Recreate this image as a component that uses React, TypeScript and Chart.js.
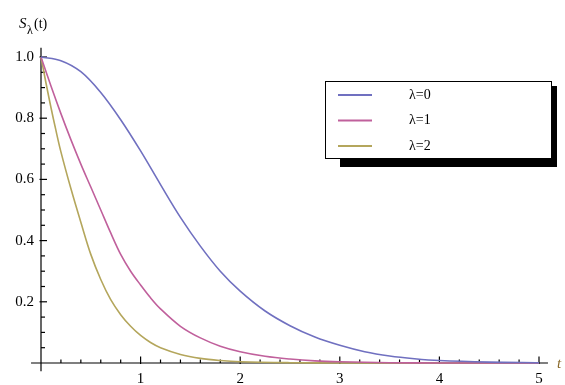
import React, { useEffect, useRef } from "react";
import { Chart, registerables } from "chart.js";

Chart.register(...registerables);

// t values and survival values
const tBlue = [0, 0.2, 0.4, 0.6, 0.8, 1.0, 1.2, 1.4, 1.6, 1.8, 2.0, 2.25, 2.5, 2.75, 3.0, 3.25, 3.5, 3.75, 4.0, 4.5, 5.0];
const sLambda0 = [1.0, 0.988, 0.952, 0.884, 0.795, 0.693, 0.583, 0.476, 0.382, 0.3, 0.235, 0.17, 0.122, 0.085, 0.058, 0.037, 0.023, 0.014, 0.008, 0.003, 0.001];

const tRed = [0, 0.1, 0.2, 0.3, 0.4, 0.5, 0.6, 0.7, 0.8, 0.9, 1.0, 1.1, 1.2, 1.4, 1.6, 1.8, 2.0, 2.25, 2.5, 2.75, 3.0, 3.5, 4.0, 5.0];
const sLambda1 = [1.0, 0.905, 0.815, 0.73, 0.65, 0.575, 0.5, 0.425, 0.355, 0.3, 0.255, 0.213, 0.177, 0.12, 0.082, 0.055, 0.037, 0.022, 0.013, 0.007, 0.004, 0.001, 0.0, 0.0];

const tYellow = [0, 0.05, 0.1, 0.15, 0.2, 0.3, 0.4, 0.5, 0.6, 0.7, 0.8, 0.9, 1.0, 1.1, 1.2, 1.4, 1.6, 1.8, 2.0, 2.5, 3.0, 5.0];
const sLambda2 = [1.0, 0.915, 0.835, 0.76, 0.69, 0.57, 0.46, 0.355, 0.273, 0.207, 0.158, 0.12, 0.09, 0.067, 0.05, 0.028, 0.015, 0.008, 0.004, 0.001, 0.0, 0.0];

const seriesLabels = ["λ=0", "λ=1", "λ=2"];
const seriesColors = ["#7070c0", "#c0609c", "#b4a65c"];

const xMajorTicks = [1, 2, 3, 4, 5];
const xTickLabels = ["1", "2", "3", "4", "5"];
const yMajorTicks = [0.2, 0.4, 0.6, 0.8, 1.0];
const yTickLabels = ["0.2", "0.4", "0.6", "0.8", "1.0"];

const FONT = "'Liberation Serif', 'DejaVu Serif', serif";

const axesPlugin = {
  id: "mmaAxes",
  beforeDatasetsDraw(chart: any) {
    const ctx = chart.ctx;
    const xs = chart.scales.x;
    const ys = chart.scales.y;
    const x0 = xs.getPixelForValue(0);
    const y0 = ys.getPixelForValue(0);
    ctx.save();
    ctx.strokeStyle = "#000";
    ctx.lineWidth = 1.2;
    ctx.beginPath();
    ctx.moveTo(xs.getPixelForValue(-0.1), y0);
    ctx.lineTo(xs.getPixelForValue(5.09), y0);
    ctx.stroke();
    ctx.beginPath();
    ctx.moveTo(x0, ys.getPixelForValue(1.03));
    ctx.lineTo(x0, ys.getPixelForValue(-0.027));
    ctx.stroke();
    for (let i = 1; i <= 25; i++) {
      const v = i * 0.2;
      const px = xs.getPixelForValue(v);
      const major = i % 5 === 0;
      ctx.beginPath();
      ctx.moveTo(px, y0 + (major ? 1 : 0));
      ctx.lineTo(px, y0 - (major ? 6.5 : 3.5));
      ctx.stroke();
    }
    for (let i = 1; i <= 20; i++) {
      const v = i * 0.05;
      const py = ys.getPixelForValue(v);
      const major = i % 4 === 0;
      ctx.beginPath();
      ctx.moveTo(x0 - (major ? 1.5 : 0), py);
      ctx.lineTo(x0 + (major ? 6 : 4), py);
      ctx.stroke();
    }
    ctx.fillStyle = "#000";
    ctx.font = `15px ${FONT}`;
    ctx.textAlign = "center";
    ctx.textBaseline = "top";
    xMajorTicks.forEach((v, i) => {
      ctx.fillText(xTickLabels[i], xs.getPixelForValue(v), y0 + 9);
    });
    ctx.textAlign = "right";
    ctx.textBaseline = "middle";
    yMajorTicks.forEach((v, i) => {
      ctx.fillText(yTickLabels[i], x0 - 7, ys.getPixelForValue(v));
    });
    ctx.textAlign = "left";
    ctx.textBaseline = "middle";
    ctx.font = `italic 15px ${FONT}`;
    ctx.fillStyle = "#8a6a2a";
    ctx.fillText("t", xs.getPixelForValue(5.18), y0 + 1);
    ctx.fillStyle = "#000";
    ctx.textBaseline = "alphabetic";
    ctx.font = `italic 15px ${FONT}`;
    ctx.fillText("S", 19, 28);
    ctx.font = `12px ${FONT}`;
    ctx.fillText("λ", 27, 34);
    ctx.font = `14px ${FONT}`;
    ctx.fillText("(t)", 34, 28);
    ctx.restore();
  },
  afterDatasetsDraw(chart: any) {
    const ctx = chart.ctx;
    ctx.save();
    ctx.fillStyle = "#000";
    ctx.fillRect(340, 86, 217, 81);
    ctx.fillStyle = "#fff";
    ctx.fillRect(325.5, 81.5, 226, 77);
    ctx.strokeStyle = "#000";
    ctx.lineWidth = 1;
    ctx.strokeRect(325.5, 81.5, 226, 77);
    const rows = [95, 120.5, 146];
    ctx.font = `14px ${FONT}`;
    ctx.textBaseline = "middle";
    ctx.textAlign = "left";
    chart.data.datasets.forEach((ds: any, i: number) => {
      ctx.strokeStyle = ds.borderColor;
      ctx.lineWidth = 2;
      ctx.beginPath();
      ctx.moveTo(338, rows[i]);
      ctx.lineTo(372, rows[i]);
      ctx.stroke();
      ctx.fillStyle = "#000";
      ctx.fillText(ds.label, 409, rows[i]);
    });
    ctx.restore();
  },
};

function toPoints(ts: number[], vs: number[]) {
  return ts.map((t, i) => ({ x: t, y: vs[i] }));
}

export default function App() {
  const ref = useRef<HTMLCanvasElement | null>(null);
  useEffect(() => {
    if (!ref.current) return;
    const data = [toPoints(tBlue, sLambda0), toPoints(tRed, sLambda1), toPoints(tYellow, sLambda2)];
    const chart = new Chart(ref.current, {
      type: "line",
      data: {
        datasets: data.map((d, i) => ({
          label: seriesLabels[i],
          data: d,
          borderColor: seriesColors[i],
          borderWidth: 1.6,
          pointRadius: 0,
          fill: false,
          tension: 0.35,
          clip: 8,
        })),
      },
      options: {
        animation: false,
        responsive: false,
        maintainAspectRatio: false,
        layout: { padding: { left: 41, right: 26, top: 57, bottom: 22 } },
        plugins: { legend: { display: false }, tooltip: { enabled: false } },
        scales: {
          x: { type: "linear", min: 0, max: 5, display: false },
          y: { type: "linear", min: 0, max: 1, display: false },
        },
      },
      plugins: [axesPlugin],
    });
    return () => chart.destroy();
  }, []);
  return (
    <div style={{ position: "fixed", left: 0, top: 0, width: 565, height: 385, background: "#fff" }}>
      <canvas ref={ref} width={565} height={385} style={{ width: 565, height: 385 }} />
    </div>
  );
}
